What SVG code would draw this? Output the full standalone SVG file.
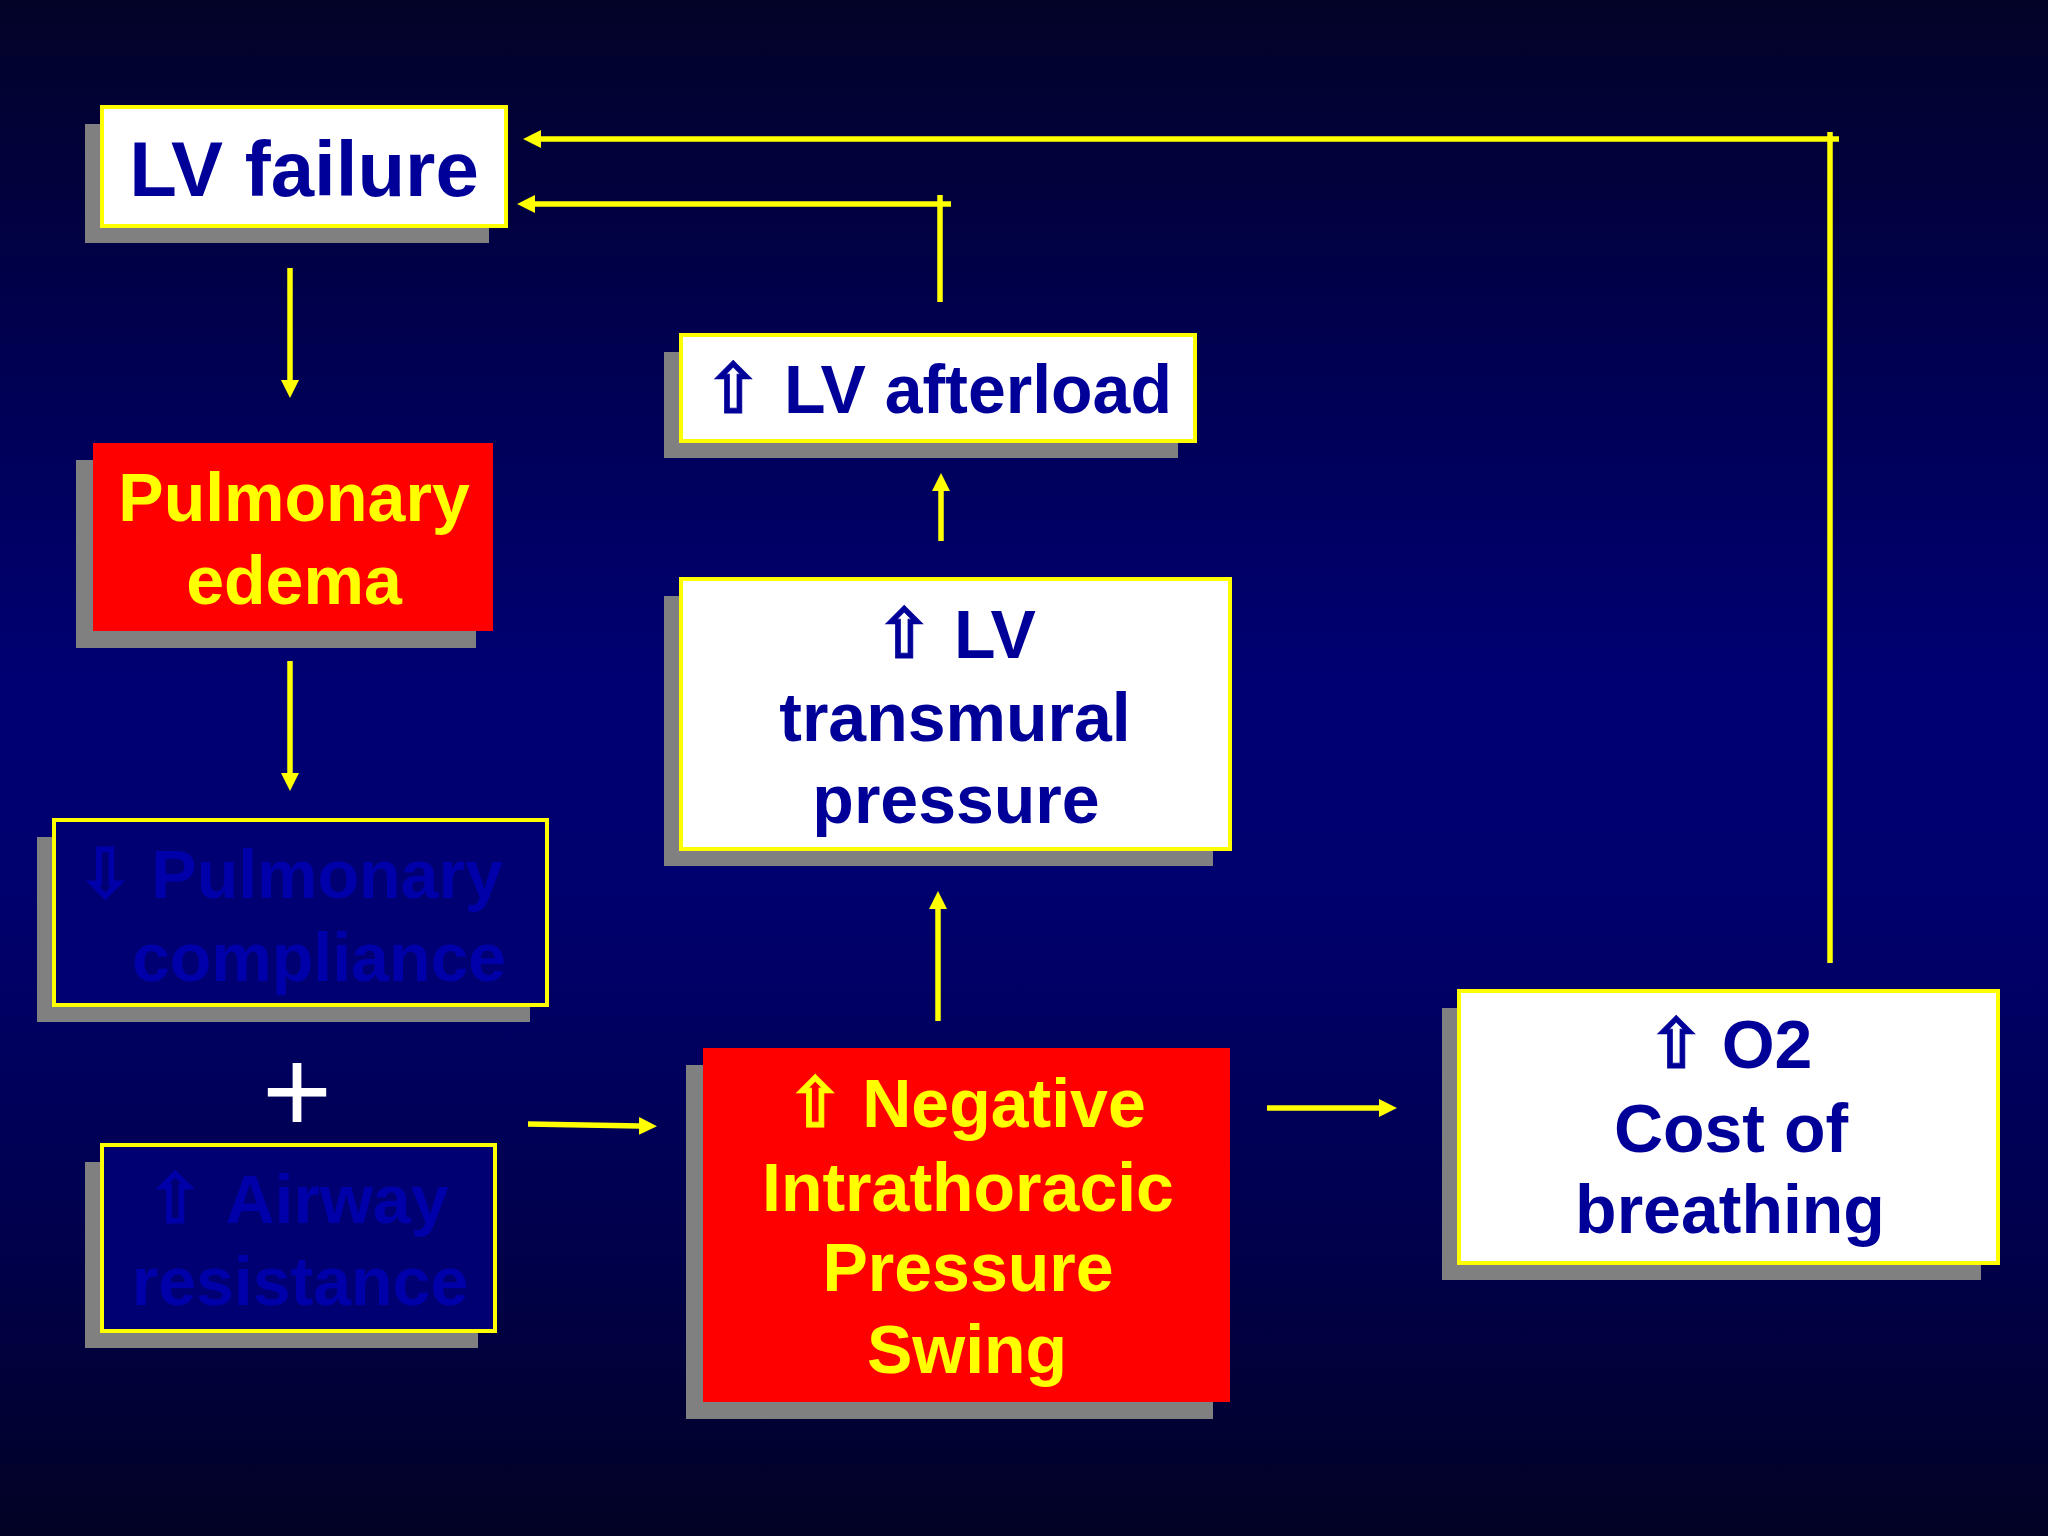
<svg xmlns="http://www.w3.org/2000/svg" width="2048" height="1536" viewBox="0 0 2048 1536">
<defs>
<linearGradient id="bg" x1="0" y1="0" x2="0" y2="1">
<stop offset="0" stop-color="#030328"/>
<stop offset="0.2" stop-color="#00004c"/>
<stop offset="0.45" stop-color="#000074"/>
<stop offset="0.58" stop-color="#00006e"/>
<stop offset="0.82" stop-color="#00004a"/>
<stop offset="1" stop-color="#020224"/>
</linearGradient>
<marker id="ah" markerUnits="userSpaceOnUse" markerWidth="18" markerHeight="18" viewBox="0 0 17 17" refX="1" refY="8.5" orient="auto">
<path d="M0,0 L17,8.5 L0,17 z" fill="#ffff00"/>
</marker>
<style>
.sh{fill:#808080}
.wb{fill:#ffffff;stroke:#ffff00;stroke-width:4}
.rb{fill:#ff0000}
.nb{fill:#000072;stroke:#ffff00;stroke-width:4}
.t{font-family:"Liberation Sans",Arial,sans-serif;font-weight:bold;font-size:68px;text-anchor:middle}
.a{font-family:"DejaVu Sans",sans-serif;font-weight:bold;font-size:70px;text-anchor:middle;stroke-width:0.8}
.dk{fill:#000099;stroke:#000099}
.yl{fill:#ffff00;stroke:#ffff00}
.fd{fill:#0000aa;stroke:#0000aa}
.t.dk,.t.yl,.t.fd,.dk .t,.yl .t,.fd .t{stroke:none}
.c{stroke:#ffff00;stroke-width:5.5;fill:none}
.ca{stroke:#ffff00;stroke-width:5.5;fill:none;marker-end:url(#ah)}
</style>
</defs>
<rect width="2048" height="1536" fill="url(#bg)"/>

<g id="lv-failure">
<rect class="sh" x="85" y="124" width="404" height="119"/>
<rect class="wb" x="102" y="107" width="404" height="119"/>
<text class="t dk" x="304" y="196" style="font-size:78px">LV failure</text>
</g>

<g id="pulmonary-edema">
<rect class="sh" x="76" y="460" width="400" height="188"/>
<rect class="rb" x="93" y="443" width="400" height="188"/>
<text class="t yl" x="294" y="521">Pulmonary</text>
<text class="t yl" x="294" y="604">edema</text>
</g>

<g id="pulmonary-compliance">
<rect class="sh" x="37" y="837" width="493" height="185"/>
<rect class="nb" x="54" y="820" width="493" height="185"/>
<text class="fd" y="898"><tspan class="a" x="105">⇩</tspan><tspan class="t" x="327">Pulmonary</tspan></text>
<text class="t fd" x="319" y="981">compliance</text>
</g>

<text id="plus" x="297" y="1133" style="font-family:'Liberation Sans',Arial,sans-serif;font-size:120px;text-anchor:middle" fill="#ffffff">+</text>

<g id="airway-resistance">
<rect class="sh" x="85" y="1162" width="393" height="186"/>
<rect class="nb" x="102" y="1145" width="393" height="186"/>
<text class="fd" y="1223"><tspan class="a" x="175">⇧</tspan><tspan class="t" x="337">Airway</tspan></text>
<text class="t fd" x="300" y="1305">resistance</text>
</g>

<g id="lv-afterload">
<rect class="sh" x="664" y="352" width="514" height="106"/>
<rect class="wb" x="681" y="335" width="514" height="106"/>
<text class="dk" y="413"><tspan class="a" x="733">⇧</tspan><tspan class="t" x="978">LV afterload</tspan></text>
</g>

<g id="lv-transmural">
<rect class="sh" x="664" y="596" width="549" height="270"/>
<rect class="wb" x="681" y="579" width="549" height="270"/>
<text class="dk" y="658"><tspan class="a" x="904">⇧</tspan><tspan class="t" x="995">LV</tspan></text>
<text class="t dk" x="955" y="741">transmural</text>
<text class="t dk" x="956" y="823">pressure</text>
</g>

<g id="negative-itp-swing">
<rect class="sh" x="686" y="1065" width="527" height="354"/>
<rect class="rb" x="703" y="1048" width="527" height="354"/>
<text class="yl" y="1127"><tspan class="a" x="815">⇧</tspan><tspan class="t" x="1004">Negative</tspan></text>
<text class="t yl" x="968" y="1211">Intrathoracic</text>
<text class="t yl" x="968" y="1291">Pressure</text>
<text class="t yl" x="967" y="1373">Swing</text>
</g>

<g id="o2-cost">
<rect class="sh" x="1442" y="1008" width="539" height="272"/>
<rect class="wb" x="1459" y="991" width="539" height="272"/>
<text class="dk" y="1068"><tspan class="a" x="1676">⇧</tspan><tspan class="t" x="1767">O2</tspan></text>
<text class="t dk" x="1731" y="1152">Cost of</text>
<text class="t dk" x="1730" y="1233">breathing</text>
</g>

<g id="connectors">
<line class="ca" x1="290" y1="268" x2="290" y2="381"/>
<line class="ca" x1="290" y1="661" x2="290" y2="774"/>
<line class="ca" x1="528" y1="1124" x2="640" y2="1126"/>
<line class="ca" x1="938" y1="1021" x2="938" y2="908"/>
<line class="ca" x1="941" y1="541" x2="941" y2="490"/>
<line class="ca" x1="1267" y1="1108" x2="1380" y2="1108"/>
<line class="c" x1="940" y1="302" x2="940" y2="195"/>
<line class="ca" x1="951" y1="204" x2="534" y2="204"/>
<line class="c" x1="1830" y1="963" x2="1830" y2="132"/>
<line class="ca" x1="1839" y1="139" x2="540" y2="139"/>
</g>
</svg>
